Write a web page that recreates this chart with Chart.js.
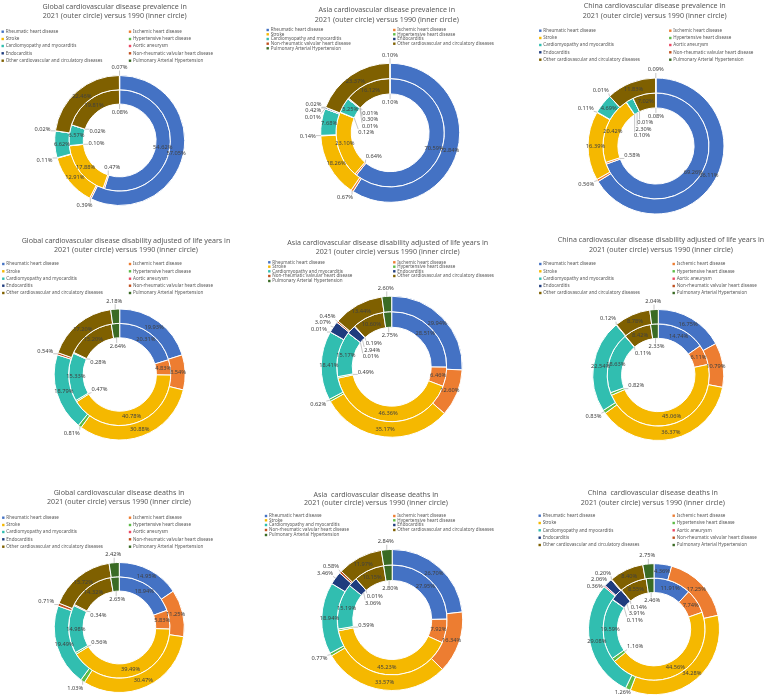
<!DOCTYPE html>
<html>
<head>
<meta charset="utf-8">
<script src="https://cdn.jsdelivr.net/npm/chart.js@4.4.1/dist/chart.umd.min.js"></script>
<style>
  body { margin: 0; background: #fff; }
  #wrap { position: relative; width: 767px; height: 696px; }
  #wrap canvas { position: absolute; }
</style>
</head>
<body>
<div id="wrap"></div>
<script>
const categories = [
  'Rheumatic heart disease', 'Ischemic heart disease', 'Stroke', 'Hypertensive heart disease',
  'Cardiomyopathy and myocarditis', 'Aortic aneurysm', 'Endocarditis',
  'Non-rheumatic valvular heart disease', 'Other cardiovascular and circulatory diseases',
  'Pulmonary Arterial Hypertension'
];
const colors = ['#4472C4', '#ED7D31', '#F5B800', '#5DBB46', '#31BEB0', '#EC4863', '#1F3C7E', '#C0501E', '#7F6000', '#3A6B24'];

// values in %, same order as categories (null = not shown)
const globalPrev2021 = [57.05, 0.39, 12.91, 0.11, 6.62, 0.02, null, null, 22.46, 0.07];
const globalPrev1990 = [54.62, 0.47, 17.88, 0.10, 6.57, 0.02, null, null, 19.81, 0.08];
const asiaPrev2021 = [72.84, 0.67, 18.26, 0.14, 7.68, 0.01, 0.42, 0.02, 23.37, 0.10];
const asiaPrev1990 = [70.59, 0.64, 23.10, 0.12, 5.25, 0.01, 0.30, 0.01, 16.12, 0.10];
const chinaPrev2021 = [66.11, 0.56, 16.39, 0.11, 4.69, 0.01, null, null, 11.83, 0.09];
const chinaPrev1990 = [69.26, 0.58, 20.42, 0.10, 2.30, 0.01, null, null, 7.02, 0.08];

const globalDaly2021 = [19.93, 8.54, 30.88, 0.81, 18.79, null, null, 0.54, 17.20, 2.18];
const globalDaly1990 = [20.31, 4.83, 40.78, 0.47, 15.33, null, null, 0.28, 15.20, 2.64];
const asiaDaly2021 = [29.94, 12.60, 35.17, 0.62, 18.41, 0.01, 3.07, 0.45, 13.44, 2.60];
const asiaDaly1990 = [28.51, 6.46, 46.36, 0.49, 15.17, 0.01, 2.94, 0.19, 10.60, 2.75];
const chinaDaly2021 = [16.75, 10.79, 36.37, 0.83, 22.54, 0.12, null, null, 8.78, 2.04];
const chinaDaly1990 = [14.74, 6.11, 45.06, 0.82, 18.63, 0.11, null, null, 8.42, 2.33];

const globalDeaths2021 = [14.95, 11.25, 30.47, 1.03, 19.49, null, null, 0.71, 15.72, 2.42];
const globalDeaths1990 = [18.94, 5.83, 39.49, 0.56, 14.98, null, null, 0.34, 14.32, 2.65];
const asiaDeaths2021 = [26.70, 16.34, 33.57, 0.77, 18.94, null, 3.46, 0.58, 11.97, 2.84];
const asiaDeaths1990 = [27.95, 7.92, 45.23, 0.59, 15.19, null, 3.06, 0.01, 10.15, 2.80];
const chinaDeaths2021 = [4.36, 17.25, 34.28, 1.26, 29.08, 0.36, 2.06, 0.20, 8.40, 2.75];
const chinaDeaths1990 = [11.91, 7.74, 44.56, 1.16, 19.59, 0.11, 3.91, 0.14, 8.55, 2.46];

const sub = '2021 (outer circle) versus 1990 (inner circle)';

const panels = [
  { title: ['Global cardiovascular disease prevalence in', sub], outer: globalPrev2021, inner: globalPrev1990, asia: false,
    box: [0, 0, 256, 230], tx: 114.7, ty: [7, 16.3], lx: [2.7, 130], ly: [31.7, 39, 46, 53.3, 60.7], cx: 119.7, cy: 140.5, r: 65 },
  { title: ['Asia cardiovascular disease prevalence in', sub], outer: asiaPrev2021, inner: asiaPrev1990, asia: true,
    box: [256, 0, 256, 230], tx: 130.8, ty: [10.3, 20], lx: [11.7, 138.3], ly: [30, 34.3, 39, 43.7, 48.3], cx: 134.2, cy: 132.8, r: 69.5 },
  { title: ['China cardiovascular disease prevalence in', sub], outer: chinaPrev2021, inner: chinaPrev1990, asia: false,
    box: [512, 0, 255, 230], tx: 142.7, ty: [6.3, 16.3], lx: [28.3, 158.3], ly: [30.7, 38, 45, 52.3, 59.7], cx: 144, cy: 146, r: 68 },
  { title: ['Global cardiovascular disease disability adjusted of life years in', sub], outer: globalDaly2021, inner: globalDaly1990, asia: false,
    box: [0, 230, 256, 235], tx: 126, ty: [10.7, 20], lx: [3.3, 130], ly: [34, 41.3, 48.7, 55.7, 63], cx: 119.7, cy: 144.5, r: 65.5 },
  { title: ['Asia cardiovascular disease disability adjusted of life years in', sub], outer: asiaDaly2021, inner: asiaDaly1990, asia: true,
    box: [256, 230, 256, 235], tx: 131.7, ty: [12.7, 21.7], lx: [13.3, 138.3], ly: [32.3, 36.7, 41.3, 46, 51], cx: 135.7, cy: 136.7, r: 70.5 },
  { title: ['China cardiovascular disease disability adjusted of life years in', sub], outer: chinaDaly2021, inner: chinaDaly1990, asia: false,
    box: [512, 230, 255, 235], tx: 149, ty: [10, 19.7], lx: [28.3, 161.7], ly: [34, 41.3, 48.7, 56, 63], cx: 146.3, cy: 145, r: 65.5 },
  { title: ['Global cardiovascular disease deaths in', sub], outer: globalDeaths2021, inner: globalDeaths1990, asia: false,
    box: [0, 465, 256, 231], tx: 119, ty: [28.3, 37.3], lx: [3.3, 130], ly: [52.7, 60, 67, 74.3, 81.7], cx: 119.3, cy: 162.5, r: 65 },
  { title: ['Asia  cardiovascular disease deaths in', sub], outer: asiaDeaths2021, inner: asiaDeaths1990, asia: true,
    box: [256, 465, 256, 231], tx: 120, ty: [30, 38.3], lx: [10, 138.3], ly: [51, 55.3, 60, 65, 70], cx: 136.2, cy: 155, r: 70.5 },
  { title: ['China  cardiovascular disease deaths in', sub], outer: chinaDeaths2021, inner: chinaDeaths1990, asia: false,
    box: [512, 465, 255, 231], tx: 140.8, ty: [28.3, 38.3], lx: [27.7, 161.7], ly: [50.7, 58, 65.3, 72.7, 80], cx: 142, cy: 164.2, r: 65.5 }
];

const FONT = '"Noto Sans", "Open Sans", sans-serif';

function drawLabels(chart, ctx) {
  ctx.font = '5.7px ' + FONT;
  const h = 6.4;
  const W = chart.width, H = chart.height;
  chart.data.datasets.forEach((ds, di) => {
    const meta = chart.getDatasetMeta(di);
    const total = ds.data.reduce((s, v) => s + (v || 0), 0);
    const loose = [];
    meta.data.forEach((arc, i) => {
      const v = ds.data[i];
      if (v == null) return;
      const pr = arc.getProps(['x', 'y', 'startAngle', 'endAngle', 'innerRadius', 'outerRadius'], true);
      const a = (pr.startAngle + pr.endAngle) / 2;
      const cos = Math.cos(a), sin = Math.sin(a);
      const txt = v.toFixed(2) + '%';
      const w = ctx.measureText(txt).width;
      if (v / total >= 0.04) {
        const rm = (pr.innerRadius + pr.outerRadius) / 2;
        ctx.fillStyle = '#404040';
        ctx.textAlign = 'center';
        ctx.textBaseline = 'middle';
        ctx.fillText(txt, pr.x + rm * cos, pr.y + rm * sin);
        return;
      }
      // small slice: outside the outer ring, or inside the hole for the inner ring
      const edge = di === 0 ? pr.outerRadius : pr.innerRadius;
      const dir = di === 0 ? 1 : -1;
      const rr = edge + dir * 5;
      loose.push({
        txt, w,
        ax: pr.x + edge * cos, ay: pr.y + edge * sin,
        x: pr.x + rr * cos + dir * cos * w / 2,
        y: pr.y + rr * sin + dir * sin * h / 2
      });
    });
    loose.sort((a, b) => a.y - b.y);
    for (let i = 1; i < loose.length; i++) {
      for (let j = 0; j < i; j++) {
        const A = loose[j], B = loose[i];
        if (Math.abs(A.x - B.x) < (A.w + B.w) / 2 && B.y - A.y < h) B.y = A.y + h;
      }
    }
    loose.forEach(L => {
      L.x = Math.max(L.w / 2 + 1, Math.min(W - L.w / 2 - 1, L.x));
      L.y = Math.max(h / 2, Math.min(H - h / 2, L.y));
      const nx = Math.max(L.x - L.w / 2, Math.min(L.ax, L.x + L.w / 2));
      const ny = Math.max(L.y - h / 2, Math.min(L.ay, L.y + h / 2));
      if (Math.hypot(nx - L.ax, ny - L.ay) > 1.5) {
        ctx.strokeStyle = '#a0a0a0';
        ctx.lineWidth = 0.6;
        ctx.beginPath();
        ctx.moveTo(L.ax, L.ay);
        ctx.lineTo(nx, ny);
        ctx.stroke();
      }
      ctx.fillStyle = '#404040';
      ctx.textAlign = 'center';
      ctx.textBaseline = 'middle';
      ctx.fillText(L.txt, L.x, L.y);
    });
  });
}

function decor(p) {
  return {
    id: 'decor',
    afterDraw(chart) {
      const ctx = chart.ctx;
      ctx.save();
      // title
      ctx.fillStyle = '#595959';
      ctx.font = '7.1px ' + FONT;
      ctx.textAlign = 'center';
      ctx.textBaseline = 'middle';
      p.title.forEach((t, k) => ctx.fillText(t, p.tx, p.ty[k]));
      // legend, two columns (Asia panels have no aortic aneurysm entry)
      const items = categories.map((c, i) => i).filter(i => !(p.asia && i === 5));
      ctx.font = '4.55px ' + FONT;
      ctx.textAlign = 'left';
      items.forEach((ci, j) => {
        const x = p.lx[j % 2];
        const y = p.ly[Math.floor(j / 2)];
        ctx.fillStyle = colors[ci];
        ctx.fillRect(x - 1.2, y - 1.2, 2.4, 2.4);
        ctx.fillStyle = '#595959';
        ctx.fillText(categories[ci], x + 3, y);
      });
      drawLabels(chart, ctx);
      ctx.restore();
    }
  };
}

const wrap = document.getElementById('wrap');
panels.forEach(p => {
  const [bx, by, bw, bh] = p.box;
  const cv = document.createElement('canvas');
  cv.width = bw; cv.height = bh;
  cv.style.left = bx + 'px'; cv.style.top = by + 'px';
  cv.style.width = bw + 'px'; cv.style.height = bh + 'px';
  wrap.appendChild(cv);
  const s = Math.min(p.cx, p.cy, bw - p.cx, bh - p.cy) - 1;
  new Chart(cv, {
    type: 'doughnut',
    data: {
      labels: categories,
      datasets: [
        { data: p.outer, backgroundColor: colors, borderColor: '#fff', borderWidth: 1 },
        { data: p.inner, backgroundColor: colors, borderColor: '#fff', borderWidth: 1 }
      ]
    },
    options: {
      responsive: false,
      animation: false,
      cutout: '56%',
      radius: p.r,
      layout: { padding: { left: p.cx - s, right: bw - p.cx - s, top: p.cy - s, bottom: bh - p.cy - s } },
      plugins: { legend: { display: false }, tooltip: { enabled: false } }
    },
    plugins: [decor(p)]
  });
});
</script>
</body>
</html>
